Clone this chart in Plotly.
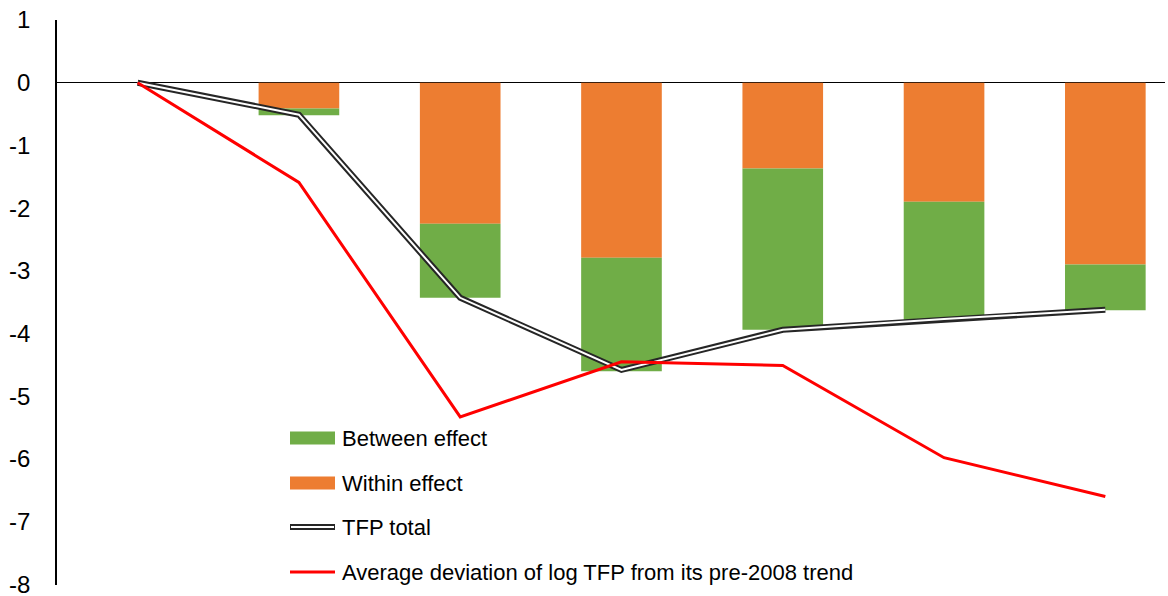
import plotly.graph_objects as go

# Decomposition of the TFP deviation, by period (index 0 = base)
periods = [0, 1, 2, 3, 4, 5, 6]
within_effect = [0.0, -0.41, -2.25, -2.79, -1.37, -1.90, -2.90]
between_effect = [0.0, -0.11, -1.18, -1.81, -2.57, -1.88, -0.73]
tfp_total = [0.0, -0.51, -3.43, -4.58, -3.94, -3.77, -3.62]
log_tfp_dev = [0.0, -1.59, -5.33, -4.45, -4.51, -5.98, -6.60]

y_ticks = [1, 0, -1, -2, -3, -4, -5, -6, -7, -8]

ORANGE = "#ED7D31"
GREEN = "#70AD47"
DARK = "#262626"
RED = "#FF0000"
FONT = "Liberation Sans, Arial, sans-serif"

W_FIG, H_FIG = 1168, 596
L, R, T, B = 57, 3, 20, 11
PW, PH = W_FIG - L - R, H_FIG - T - B


def px(x):
    return (x - L) / PW


def py(y):
    return 1 - (y - T) / PH


fig = go.Figure()
fig.add_trace(go.Bar(x=periods, y=within_effect, name="Within effect",
                     marker=dict(color=ORANGE, line=dict(width=0)), width=0.5))
fig.add_trace(go.Bar(x=periods, y=between_effect, name="Between effect",
                     marker=dict(color=GREEN, line=dict(width=0)), width=0.5))
# Double line: dark outer stroke with a white core
fig.add_trace(go.Scatter(x=periods, y=tfp_total, mode="lines", name="TFP total",
                         line=dict(color=DARK, width=6)))
fig.add_trace(go.Scatter(x=periods, y=tfp_total, mode="lines", showlegend=False,
                         line=dict(color="white", width=2)))
fig.add_trace(go.Scatter(x=periods, y=log_tfp_dev, mode="lines",
                         name="Average deviation of log TFP from its pre-2008 trend",
                         line=dict(color=RED, width=3)))

# Legend drawn as shapes and text
shapes = []
annotations = []
rows = [
    ("Between effect", "rect", GREEN, 438),
    ("Within effect", "rect", ORANGE, 483),
    ("TFP total", "double", DARK, 527),
    ("Average deviation of log TFP from its pre-2008 trend", "line", RED, 572),
]
x0, x1, xt = 290, 335, 340
for label, kind, color, yc in rows:
    if kind == "rect":
        shapes.append(dict(type="rect", xref="paper", yref="paper",
                           x0=px(x0), x1=px(x1), y0=py(yc - 6.5), y1=py(yc + 6.5),
                           fillcolor=color, line=dict(width=0)))
    elif kind == "double":
        shapes.append(dict(type="line", xref="paper", yref="paper",
                           x0=px(x0), x1=px(x1), y0=py(yc), y1=py(yc),
                           line=dict(color=color, width=6)))
        shapes.append(dict(type="line", xref="paper", yref="paper",
                           x0=px(x0 + 1), x1=px(x1 - 1), y0=py(yc), y1=py(yc),
                           line=dict(color="white", width=2)))
    else:
        shapes.append(dict(type="line", xref="paper", yref="paper",
                           x0=px(x0), x1=px(x1), y0=py(yc), y1=py(yc),
                           line=dict(color=color, width=3)))
    annotations.append(dict(text=label, xref="paper", yref="paper",
                            x=px(xt), y=py(yc), xanchor="left", yanchor="middle",
                            showarrow=False, font=dict(family=FONT, size=22, color="black")))

fig.update_layout(
    width=W_FIG, height=H_FIG,
    margin=dict(l=L, r=R, t=T, b=B, pad=0, autoexpand=False),
    paper_bgcolor="white", plot_bgcolor="white",
    barmode="relative", bargap=0.5,
    showlegend=False,
    font=dict(family=FONT, color="black"),
    shapes=shapes, annotations=annotations,
    xaxis=dict(range=[-0.5, 6.37], showticklabels=False, showgrid=False,
               zeroline=False, showline=False, ticks="", automargin=False),
    yaxis=dict(range=[-8.01, 1], tickvals=y_ticks, ticktext=[str(v) for v in y_ticks],
               showgrid=False, zeroline=True, zerolinecolor="black", zerolinewidth=1.3,
               showline=True, linecolor="black", linewidth=1.5, ticks="",
               ticklabeloverflow="allow", automargin=False,
               ticklabelstandoff=20, tickfont=dict(family=FONT, size=24, color="black")),
)

fig.write_html("out.html")
